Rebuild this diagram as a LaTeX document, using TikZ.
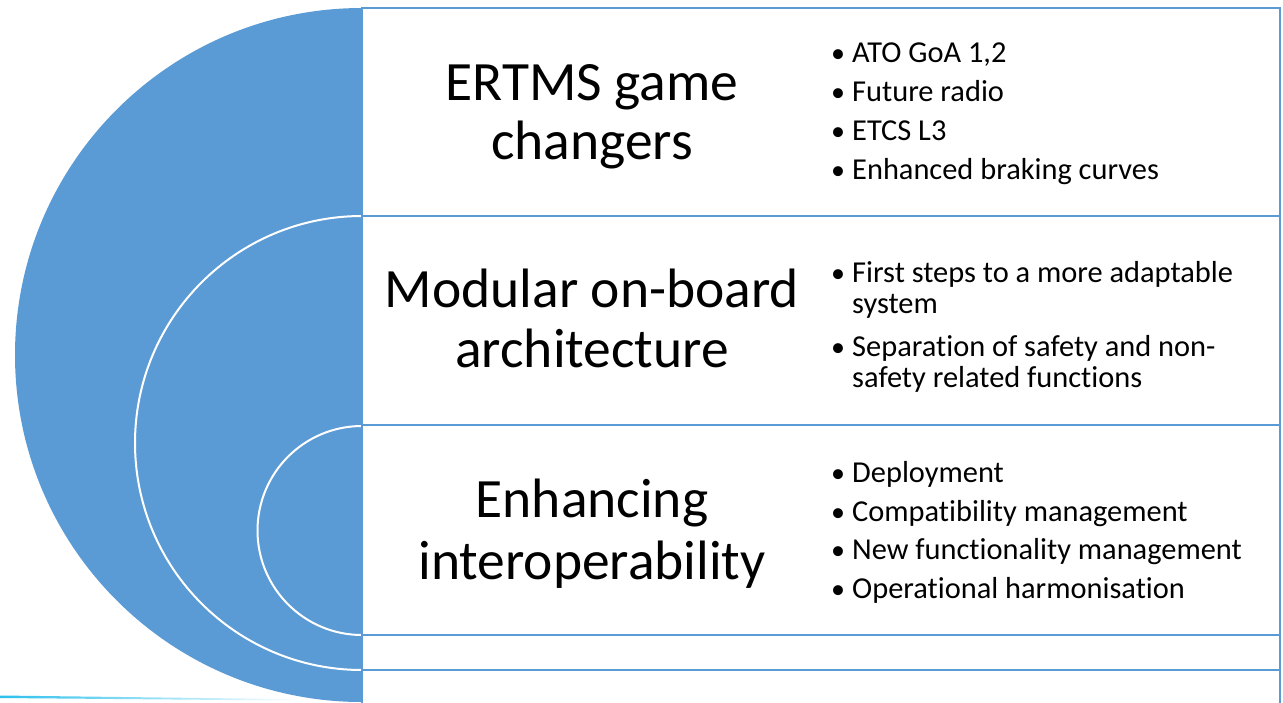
\documentclass[tikz,border=0pt]{standalone}
\usepackage{fontspec}
\setmainfont{Carlito}[Ligatures=NoCommon]
\definecolor{accent}{HTML}{5B9BD5}
\definecolor{swoosh}{HTML}{2CC0EC}
\begin{document}
\begin{tikzpicture}[x=1pt,y=-1pt,
  title/.style={font=\fontsize{55.5}{60}\selectfont, anchor=base, inner sep=0pt},
  bul/.style={font=\fontsize{30.4}{34}\selectfont, anchor=base west, inner sep=0pt},
  dot/.style={font=\fontsize{28}{34}\selectfont, anchor=base west, inner sep=0pt},
  ring/.style={fill=accent, draw=white, line width=2pt},
  rule/.style={draw=accent, line width=2pt}]
\useasboundingbox (0,0) rectangle (1283,702);
% background swoosh
\shade[left color=swoosh, right color=white] (0,695.5) -- (300,699.2) -- (300,700.6) -- (0,698) -- cycle;
% nested circles
\fill[accent] (362,355) circle (347);
\filldraw[ring] (362,443) circle (227);
\filldraw[ring] (362,530.5) circle (104.5);
% text panel
\filldraw[fill=white, draw=accent, line width=2pt] (362,8) rectangle (1280,720);
\draw[rule] (362,216) -- (1280,216);
\draw[rule] (362,425) -- (1280,425);
\draw[rule] (362,635) -- (1280,635);
\draw[rule] (362,670) -- (1280,670);
% box 1
\node[title] (t1a) at (592,100) {ERTMS game};
\node[title] (t1b) at (592,159) {changers};
\node[dot] (d1a) at (831,62) {•}; \node[bul] (b1a) at (852,62) {ATO GoA 1,2};
\node[dot] (d1b) at (831,101) {•}; \node[bul] (b1b) at (852,101) {Future radio};
\node[dot] (d1c) at (831,140) {•}; \node[bul] (b1c) at (852,140) {ETCS L3};
\node[dot] (d1d) at (831,179) {•}; \node[bul] (b1d) at (852,179) {Enhanced braking curves};
% box 2
\node[title] (t2a) at (592,307) {Modular on-board};
\node[title] (t2b) at (592,367) {architecture};
\node[dot] (d2a) at (831,282) {•}; \node[bul] (b2a) at (852,282) {First steps to a more adaptable};
\node[bul] (b2b) at (852,313) {system};
\node[dot] (d2c) at (831,356) {•}; \node[bul] (b2c) at (852,356) {Separation of safety and non-};
\node[bul] (b2d) at (852,387) {safety related functions};
% box 3
\node[title] (t3a) at (592,517) {Enhancing};
\node[title] (t3b) at (592,579) {interoperability};
\node[dot] (d3a) at (831,482) {•}; \node[bul] (b3a) at (852,482) {Deployment};
\node[dot] (d3b) at (831,521) {•}; \node[bul] (b3b) at (852,521) {Compatibility management};
\node[dot] (d3c) at (831,559) {•}; \node[bul] (b3c) at (852,559) {New functionality management};
\node[dot] (d3d) at (831,598) {•}; \node[bul] (b3d) at (852,598) {Operational harmonisation};
\end{tikzpicture}
\end{document}
